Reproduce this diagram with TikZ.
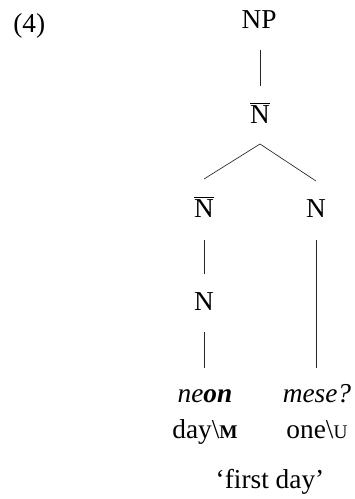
\documentclass[tikz,border=0pt]{standalone}
\usepackage{fontspec}
\setmainfont{Liberation Serif}
\usetikzlibrary{calc}
\newcommand{\fsc}[1]{{\fontsize{14.5}{15}\selectfont #1}}
\newcommand{\nbar}{$\overline{\hbox{N}}$}
\tikzset{
  lab/.style={inner sep=0pt, anchor=base, font=\fontsize{20.5}{24}\selectfont},
  edge/.style={line width=0.5pt, draw=black!85}
}
\begin{document}
\begin{tikzpicture}[x=0.75pt, y=-0.75pt]
\useasboundingbox (0,0) rectangle (354,499);
\node[lab, anchor=base west] (ex) at (13,33) {(4)};
\node[lab] (np) at (259,29) {NP};
\node[lab] (nb) at (260,123) {\nbar};
\node[lab] (lnb) at (204,217) {\nbar};
\node[lab] (rn) at (316,217) {N};
\node[lab] (ln) at (204,310) {N};
\node[lab] (neon) at (205,402) {\textit{ne\textbf{on}}};
\node[lab] (day) at (205,438) {day\textbackslash\fsc{\textbf{M}}};
\node[lab] (mese) at (317,402) {\textit{mese?}};
\node[lab] (one) at (317,438) {one\textbackslash\fsc{U}};
\node[lab] (gl) at (270,488) {‘first day’};
\draw[edge] ($(np.base)+(1,21)$) -- ($(nb.base)+(0,-37)$);
\draw[edge] ($(nb.base)+(0,21)$) -- ($(lnb.base)+(0,-38)$);
\draw[edge] ($(nb.base)+(0,21)$) -- ($(rn.base)+(0,-36)$);
\draw[edge] ($(lnb.base)+(0,23)$) -- ($(ln.base)+(0,-36)$);
\draw[edge] ($(ln.base)+(0,22)$) -- ($(neon.base)+(-1,-34)$);
\draw[edge] ($(rn.base)+(0,23)$) -- ($(mese.base)+(-1,-34)$);
\end{tikzpicture}
\end{document}
